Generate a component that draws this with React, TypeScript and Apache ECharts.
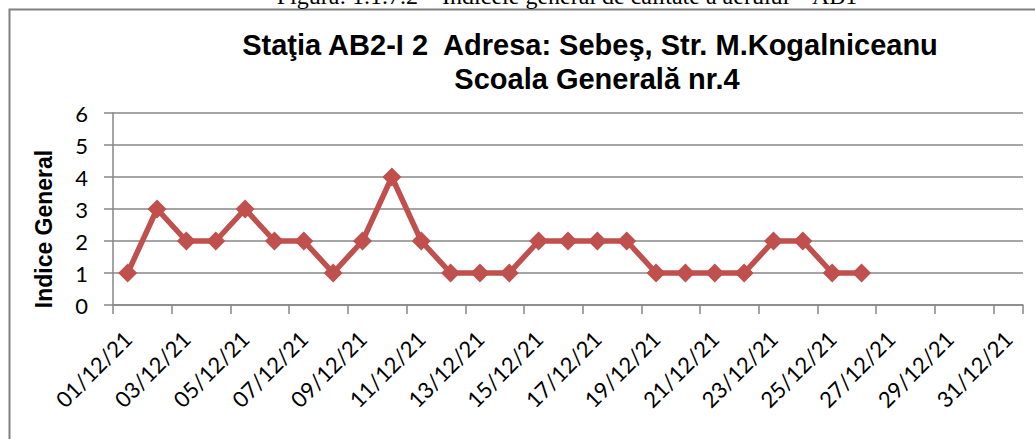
import React, { useEffect, useRef } from "react";
import * as echarts from "echarts";

const dates = [
  "01/12/21", "02/12/21", "03/12/21", "04/12/21", "05/12/21", "06/12/21", "07/12/21", "08/12/21",
  "09/12/21", "10/12/21", "11/12/21", "12/12/21", "13/12/21", "14/12/21", "15/12/21", "16/12/21",
  "17/12/21", "18/12/21", "19/12/21", "20/12/21", "21/12/21", "22/12/21", "23/12/21", "24/12/21",
  "25/12/21", "26/12/21", "27/12/21", "28/12/21", "29/12/21", "30/12/21", "31/12/21",
];

const indiceGeneral = [1, 3, 2, 2, 3, 2, 2, 1, 2, 4, 2, 1, 1, 1, 2, 2, 2, 2, 1, 1, 1, 1, 2, 2, 1, 1];

const yMin = 0;
const yMax = 6;
const yStep = 1;

const captionText = "Figura: 1.1.7.2 – Indicele general de calitate a aerului – AB1";
const titleLine1 = "Staţia AB2-I 2  Adresa: Sebeş, Str. M.Kogalniceanu";
const titleLine2 = "Scoala Generală nr.4";
const yAxisName = "Indice General";

const gridColor = "#878787";
const lineColor = "#C0504D";

export default function App() {
  const ref = useRef<HTMLDivElement>(null);
  useEffect(() => {
    if (!ref.current) return;
    const chart = echarts.init(ref.current, null, { renderer: "svg" });
    chart.setOption({
      animation: false,
      backgroundColor: "#ffffff",
      grid: { left: 113, right: 12, top: 113, bottom: 134, containLabel: false },
      xAxis: {
        type: "category",
        data: dates,
        boundaryGap: true,
        axisLine: { show: true, lineStyle: { color: gridColor, width: 1.5 } },
        axisTick: { show: true, interval: 1, length: 9, lineStyle: { color: gridColor, width: 1.5 } },
        axisLabel: {
          interval: 1,
          rotate: 45,
          fontFamily: "Lato",
          fontSize: 22,
          color: "#000",
          margin: 30,
        },
        splitLine: { show: false },
      },
      yAxis: {
        type: "value",
        min: yMin,
        max: yMax,
        interval: yStep,
        name: yAxisName,
        nameLocation: "middle",
        nameRotate: 90,
        nameGap: 58,
        nameTextStyle: {
          fontFamily: "Liberation Sans",
          fontWeight: "bold",
          fontSize: 23,
          color: "#000",
          padding: [0, 40, 0, 0],
        },
        axisLine: { show: true, lineStyle: { color: gridColor, width: 1.5 } },
        axisTick: { show: true, length: 9, lineStyle: { color: gridColor, width: 1.5 } },
        axisLabel: { fontFamily: "Lato", fontSize: 22, color: "#000", margin: 25 },
        splitLine: { show: true, lineStyle: { color: gridColor, width: 1.5 } },
      },
      series: [
        {
          type: "line",
          data: indiceGeneral,
          symbol: "diamond",
          symbolSize: 19,
          lineStyle: { color: lineColor, width: 5.5 },
          itemStyle: { color: lineColor },
        },
      ],
      graphic: [
        {
          type: "rect",
          shape: { x: 9.5, y: 9.5, width: 1100, height: 600 },
          style: { fill: "none", stroke: "#808080", lineWidth: 2 },
          silent: true,
        },
        {
          type: "text",
          x: 567,
          y: -4,
          style: {
            text: captionText,
            fontFamily: "Liberation Serif",
            fontSize: 24,
            fill: "#000",
            align: "center",
            verticalAlign: "middle",
          },
        },
        {
          type: "text",
          x: 590,
          y: 45,
          style: {
            text: titleLine1,
            fontFamily: "Liberation Sans",
            fontWeight: "bold",
            fontSize: 29,
            fill: "#000",
            align: "center",
            verticalAlign: "middle",
          },
        },
        {
          type: "text",
          x: 597,
          y: 79,
          style: {
            text: titleLine2,
            fontFamily: "Liberation Sans",
            fontWeight: "bold",
            fontSize: 29,
            fill: "#000",
            align: "center",
            verticalAlign: "middle",
          },
        },
      ],
    });
    return () => chart.dispose();
  }, []);
  return (
    <div
      ref={ref}
      style={{ position: "absolute", left: 0, top: 0, width: 1035, height: 439 }}
    />
  );
}
